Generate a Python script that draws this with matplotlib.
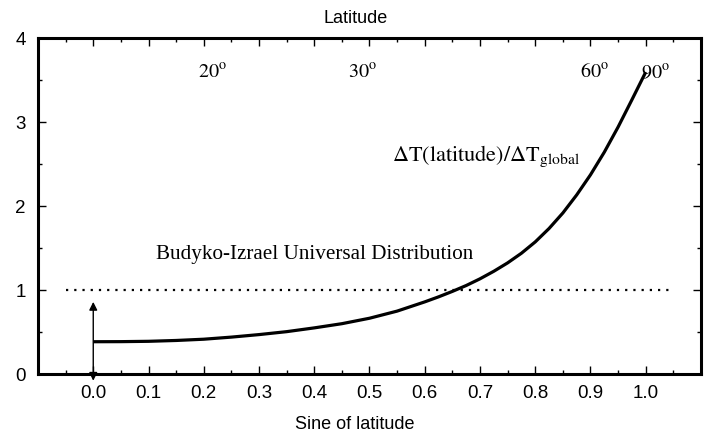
import matplotlib
matplotlib.use("Agg")
import matplotlib.pyplot as plt
from matplotlib.ticker import MultipleLocator, FixedLocator

plt.rcParams['mathtext.fontset'] = 'stix'

# Data
sine_lat = [0.00, 0.05, 0.10, 0.15, 0.20, 0.25, 0.30, 0.35, 0.40, 0.45, 0.50,
            0.55, 0.60, 0.625, 0.65, 0.675, 0.70, 0.725, 0.75, 0.775, 0.80,
            0.825, 0.85, 0.875, 0.90, 0.925, 0.95, 0.975, 1.00]
ratio = [0.385, 0.386, 0.39, 0.40, 0.415, 0.44, 0.47, 0.505, 0.55, 0.60, 0.665,
         0.75, 0.86, 0.92, 0.985, 1.055, 1.135, 1.225, 1.325, 1.44, 1.575,
         1.735, 1.92, 2.135, 2.375, 2.645, 2.945, 3.27, 3.60]
universal_level = 1.0
universal_span = [-0.05, 1.05]
bottom_ticks = [0.0, 0.1, 0.2, 0.3, 0.4, 0.5, 0.6, 0.7, 0.8, 0.9, 1.0]
bottom_labels = ['0.0', '0.1', '0.2', '0.3', '0.4', '0.5', '0.6', '0.7', '0.8', '0.9', '1.0']
y_ticks = [0, 1, 2, 3, 4]
lat_labels = ['20', '30', '60', '90']
lat_label_x = [0.215, 0.488, 0.907, 1.017]

fig = plt.figure(figsize=(7.09, 4.34), dpi=100)
ax = fig.add_axes([0.0536, 0.1382, 0.9351, 0.7731])

ax.plot(sine_lat, ratio, color='black', lw=2.3, solid_capstyle='butt',
        solid_joinstyle='round')
ax.plot(universal_span, [universal_level, universal_level], color='black',
        lw=1.6, linestyle=(0, (1, 2.7)))

ax.annotate('', xy=(0.0, 0.86), xytext=(0.0, -0.08),
            arrowprops=dict(arrowstyle='<|-|>', color='black', lw=1.0,
                            mutation_scale=12, shrinkA=0, shrinkB=0),
            annotation_clip=False)

ax.set_xlim(-0.1, 1.1)
ax.set_ylim(0, 4)

ax.xaxis.set_major_locator(FixedLocator(bottom_ticks))
ax.set_xticklabels(bottom_labels, fontfamily='Liberation Sans', fontsize=13.5)
ax.xaxis.set_minor_locator(MultipleLocator(0.05))
ax.yaxis.set_major_locator(FixedLocator(y_ticks))
ax.set_yticklabels([str(v) for v in y_ticks], fontfamily='Liberation Sans', fontsize=13.5)
ax.yaxis.set_minor_locator(MultipleLocator(0.5))

ax.tick_params(which='both', direction='in', top=True, right=True, width=1.0)
ax.tick_params(which='major', length=6)
ax.tick_params(which='minor', length=3)
ax.tick_params(axis='x', which='major', pad=8)
ax.tick_params(axis='y', which='major', pad=9)

for s in ax.spines.values():
    s.set_linewidth(2.2)

ax.set_xlabel('Sine of latitude', fontfamily='Liberation Sans', fontsize=13)
ax.xaxis.set_label_coords(0.478, -0.125)

fig.text(0.502, 0.958, 'Latitude', fontfamily='Liberation Sans', fontsize=13,
         ha='center', va='center')

for lab, xv in zip(lat_labels, lat_label_x):
    ax.text(xv, 3.6, r'$\mathrm{%s}^{\mathrm{o}}$' % lab, fontsize=14.5,
            ha='center', va='center')

ax.text(0.113, 1.42, 'Budyko-Izrael Universal Distribution',
        fontfamily='Liberation Serif', fontsize=15.2, ha='left', va='center')
ax.text(0.54, 2.6, r'$\Delta\mathrm{T(latitude)/}\Delta\mathrm{T}_{\mathrm{global}}$',
        fontsize=16, ha='left', va='center')

fig.savefig('out.png', dpi=100)
